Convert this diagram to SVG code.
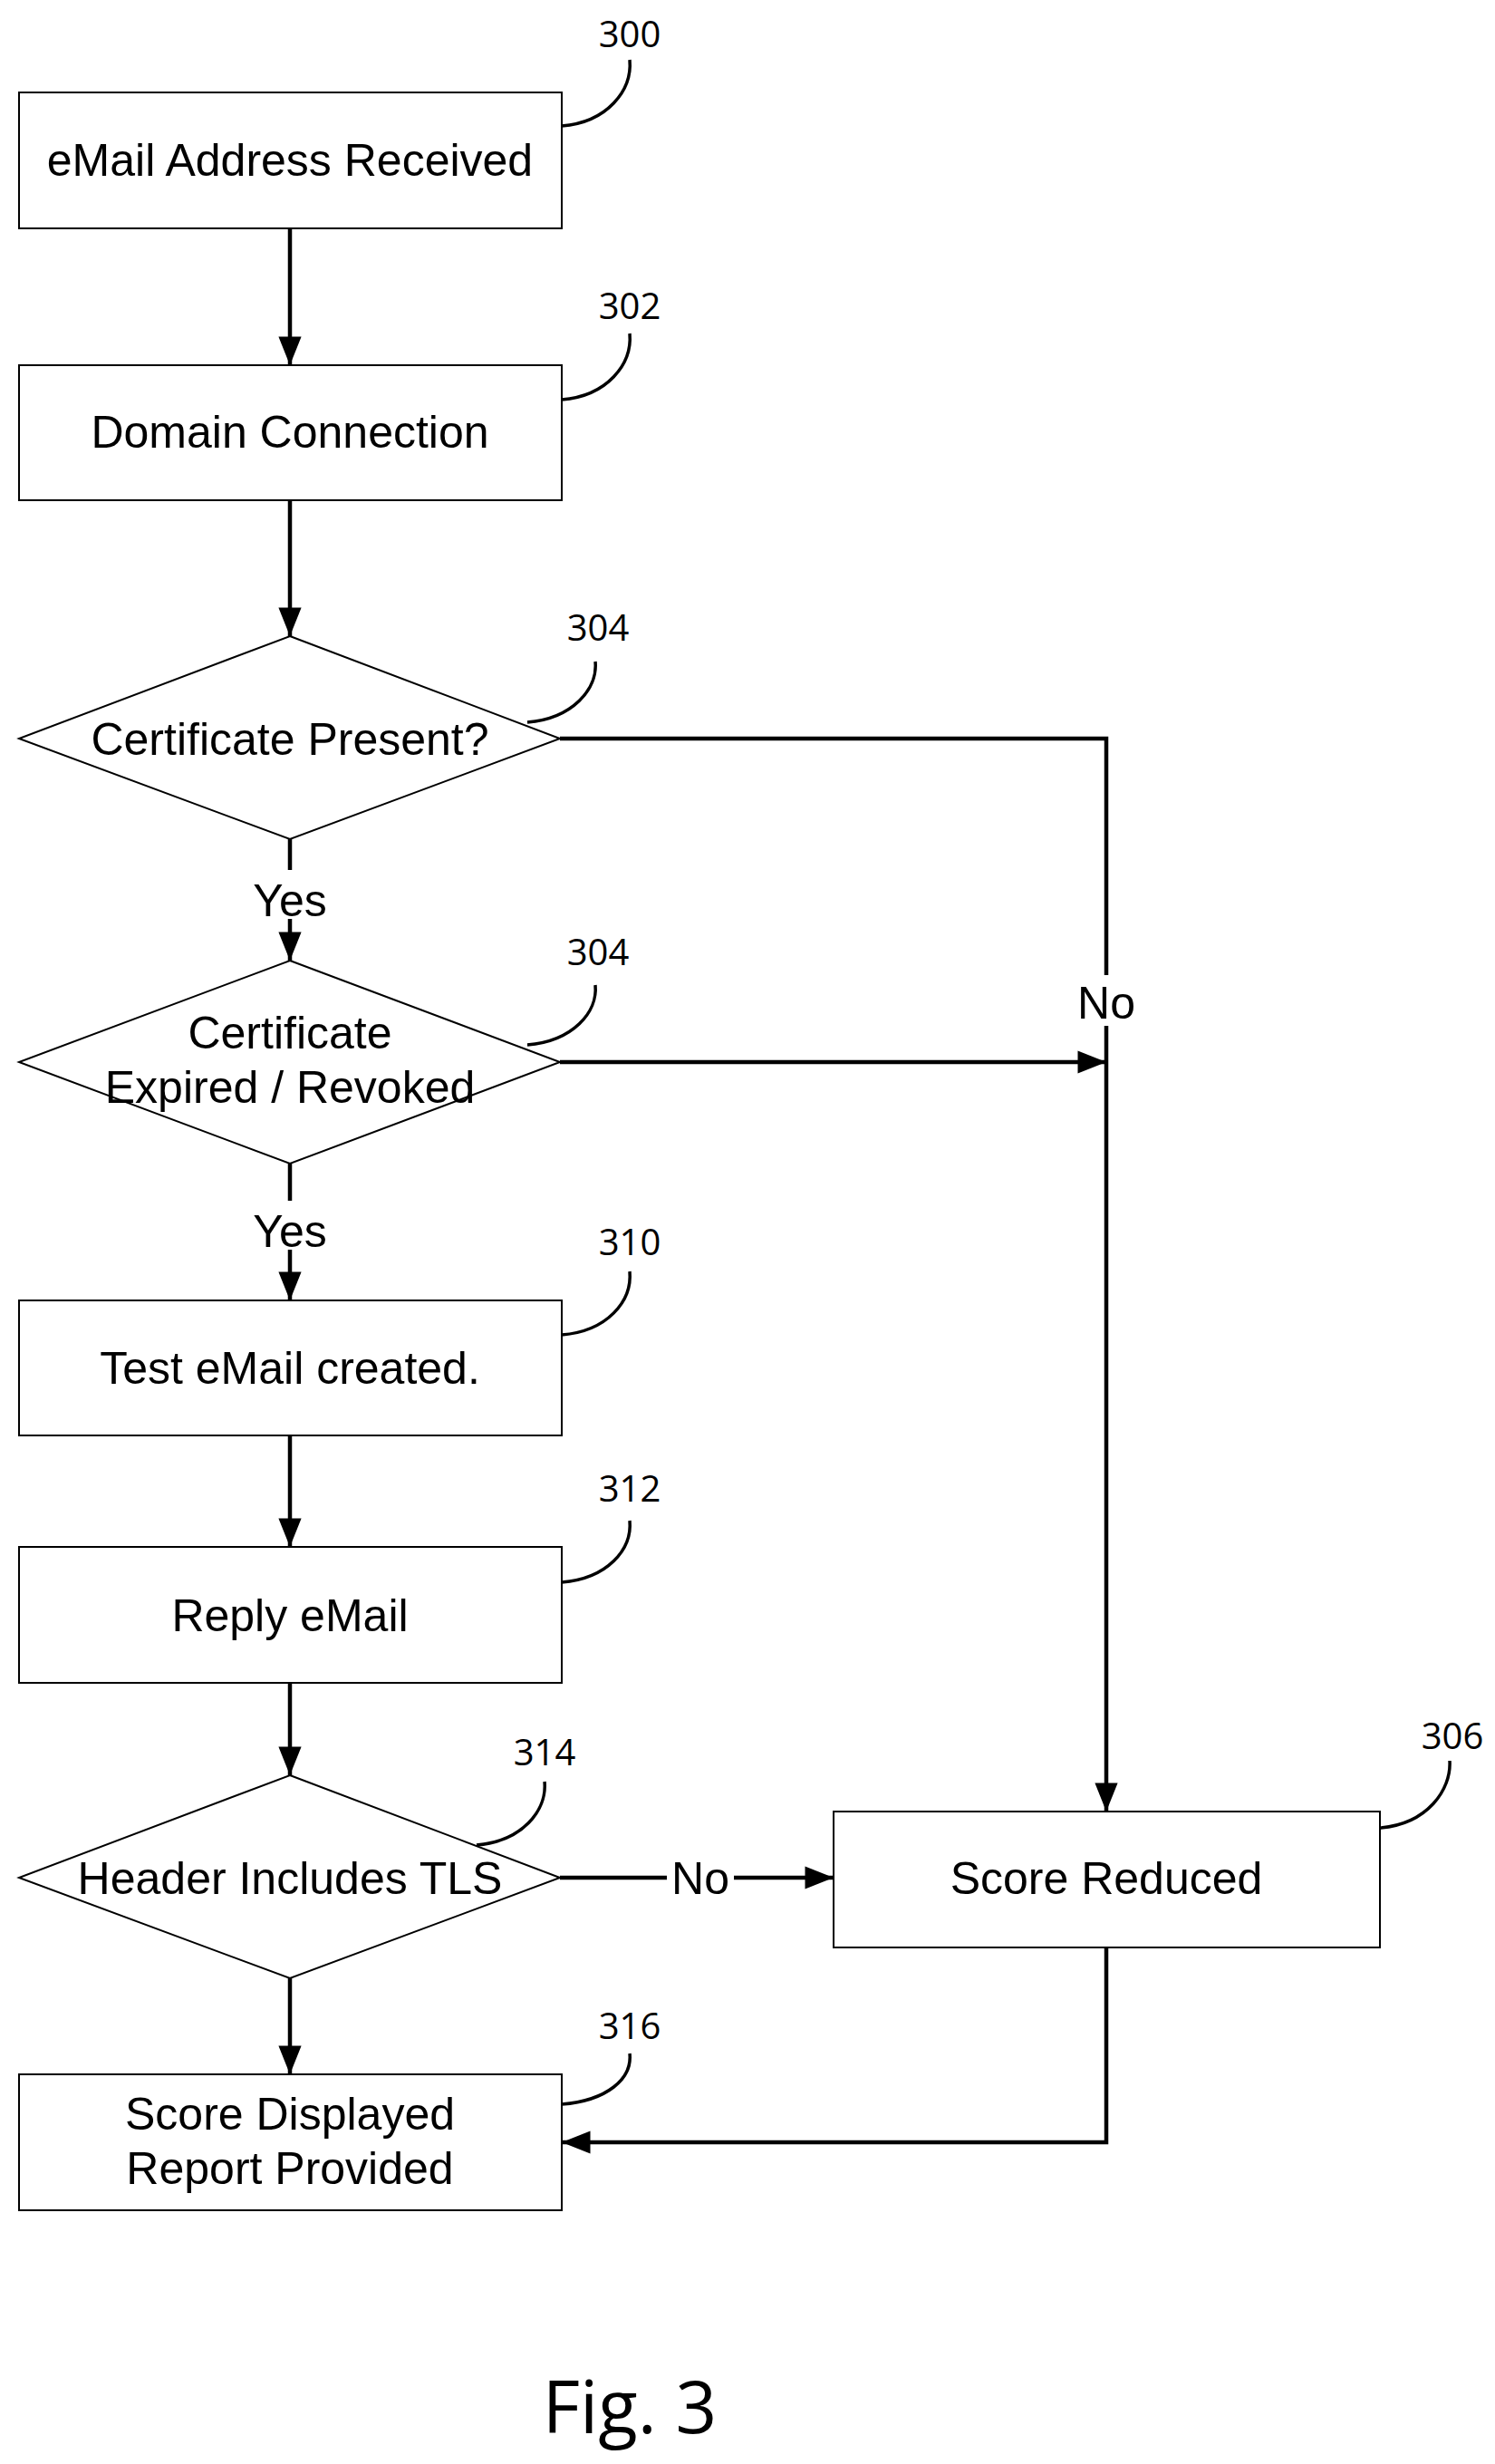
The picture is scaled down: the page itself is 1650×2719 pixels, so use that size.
<svg xmlns="http://www.w3.org/2000/svg" width="1650" height="2719" viewBox="0 0 1650 2719">
<style>
.n rect,.n polygon{fill:#fff;stroke:#000;stroke-width:2}
.t{font-family:"Liberation Sans",Arial,sans-serif;font-size:50px;text-anchor:middle;fill:#000}
.r{font-family:"Open Sans","Liberation Sans",sans-serif;font-size:40px;text-anchor:middle;fill:#000}
.c path{fill:none;stroke:#000;stroke-width:4.5}
.lead{fill:none;stroke:#000;stroke-width:3.5}
.lbl{fill:#fff}
</style>
<defs><marker id="a" viewBox="0 0 10 10" refX="10" refY="5" markerWidth="8" markerHeight="7" markerUnits="strokeWidth" orient="auto"><path d="M0,1 L10,5 L0,9 z" fill="#000"/></marker></defs>
<g class="c">
<path d="M320,252 V403" marker-end="url(#a)"/>
<path d="M320,552 V702" marker-end="url(#a)"/>
<path d="M320,926 V1060" marker-end="url(#a)"/>
<path d="M618,815 H1221 V1999" marker-end="url(#a)"/>
<path d="M618,1172 H1221" marker-end="url(#a)"/>
<path d="M320,1284 V1435" marker-end="url(#a)"/>
<path d="M320,1584 V1707" marker-end="url(#a)"/>
<path d="M320,1857 V1959" marker-end="url(#a)"/>
<path d="M618,2072 H920" marker-end="url(#a)"/>
<path d="M320,2183 V2289" marker-end="url(#a)"/>
<path d="M1221,2149 V2364 H620" marker-end="url(#a)"/>
<rect class="lbl" x="270" y="960" width="100" height="54"/>
<text class="t" x="320" y="1011">Yes</text>
<rect class="lbl" x="270" y="1325" width="100" height="54"/>
<text class="t" x="320" y="1376">Yes</text>
<rect class="lbl" x="1186" y="1076" width="70" height="56"/>
<text class="t" x="1221" y="1124">No</text>
<rect class="lbl" x="736" y="2044" width="74" height="56"/>
<text class="t" x="773" y="2090">No</text>
</g>
<g id="n300" class="n"><rect x="21" y="102" width="599" height="150"/><text class="t" x="320" y="194">eMail Address Received</text><path class="lead" d="M620,139 C670,135 698,100 695,66"/><text class="r" x="695" y="52">300</text></g>
<g id="n302" class="n"><rect x="21" y="403" width="599" height="149"/><text class="t" x="320" y="494">Domain Connection</text><path class="lead" d="M620,441 C670,437 698,402 695,368"/><text class="r" x="695" y="352">302</text></g>
<g id="n304a" class="n"><polygon points="320,702 618,815 320,926 21,815"/><text class="t" x="320" y="833">Certificate Present?</text><path class="lead" d="M582,797 C632,793 660,760 657,730"/><text class="r" x="660" y="707">304</text></g>
<g id="n304b" class="n"><polygon points="320,1060 618,1172 320,1284 21,1172"/><text class="t" x="320" y="1157">Certificate</text><text class="t" x="320" y="1217">Expired / Revoked</text><path class="lead" d="M582,1153 C632,1149 660,1117 657,1087"/><text class="r" x="660" y="1065">304</text></g>
<g id="n310" class="n"><rect x="21" y="1435" width="599" height="149"/><text class="t" x="320" y="1527">Test eMail created.</text><path class="lead" d="M620,1473 C670,1469 698,1436 695,1403"/><text class="r" x="695" y="1385">310</text></g>
<g id="n312" class="n"><rect x="21" y="1707" width="599" height="150"/><text class="t" x="320" y="1800">Reply eMail</text><path class="lead" d="M620,1746 C670,1742 698,1710 695,1678"/><text class="r" x="695" y="1657">312</text></g>
<g id="n314" class="n"><polygon points="320,1959 618,2072 320,2183 21,2072"/><text class="t" x="320" y="2090">Header Includes TLS</text><path class="lead" d="M526,2036 C576,2032 604,1998 601,1966"/><text class="r" x="601" y="1948">314</text></g>
<g id="n306" class="n"><rect x="920" y="1999" width="603" height="150"/><text class="t" x="1221" y="2090">Score Reduced</text><path class="lead" d="M1523,2017 C1575,2013 1602,1975 1600,1943"/><text class="r" x="1603" y="1930">306</text></g>
<g id="n316" class="n"><rect x="21" y="2289" width="599" height="150"/><text class="t" x="320" y="2350">Score Displayed</text><text class="t" x="320" y="2410">Report Provided</text><path class="lead" d="M620,2322 C670,2318 698,2294 695,2266"/><text class="r" x="695" y="2250">316</text></g>
<text x="695" y="2685" style="font-family:'Open Sans','Liberation Sans',sans-serif;font-size:80px;text-anchor:middle">Fig. 3</text>
</svg>
